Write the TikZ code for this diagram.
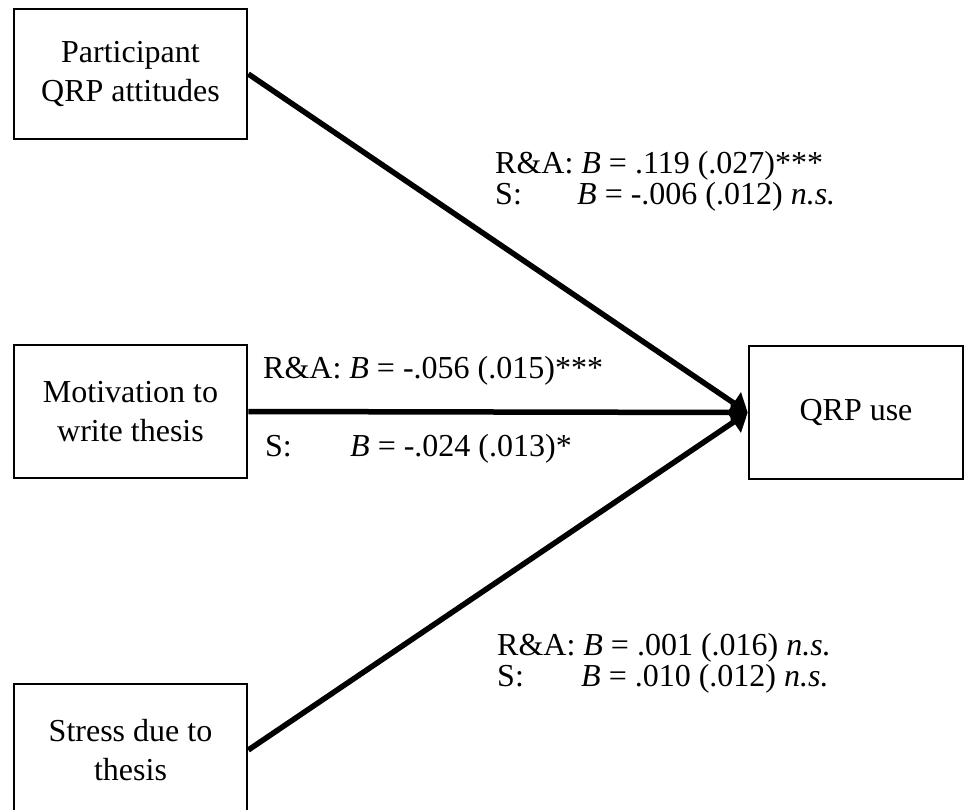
\documentclass[tikz,border=0pt]{standalone}
\usepackage{fontspec}
\setmainfont{Liberation Serif}
\usetikzlibrary{arrows.meta}
\begin{document}
\begin{tikzpicture}[x=1pt,y=-1pt,
  varbox/.style={draw, line width=2.6pt, align=center, inner sep=0pt,
    font=\fontsize{32}{39}\selectfont},
  path/.style={line width=5.5pt, -{Triangle[length=17pt,width=25pt]}},
  lbl/.style={anchor=base west, inner sep=0pt, font=\fontsize{32}{31}\selectfont}]
\useasboundingbox (0,0) rectangle (965,809);
\node[varbox, minimum width=233pt, minimum height=130pt] (att) at (130.5,74) {Participant\\QRP attitudes};
\node[varbox, minimum width=233pt, minimum height=133pt] (mot) at (130.5,411.5) {Motivation to\\write thesis};
\node[varbox, minimum width=233pt, minimum height=132pt] (str) at (130.5,750) {Stress due to\\thesis};
\node[varbox, minimum width=214pt, minimum height=133pt] (use) at (856,412.5) {QRP use};
\draw[path] (att.east) -- (use.west);
\draw[path] (mot.east) -- (use.west);
\draw[path] (str.east) -- (use.west);
\node[lbl] (l1a) at (495,173) {R\&A: \textit{B} = .119 (.027)***};
\node[lbl] (l1b) at (495,204) {\makebox[82pt][l]{S:}\textit{B} = -.006 (.012) \textit{n.s.}};
\node[lbl] (l2a) at (263,378) {R\&A: \textit{B} = -.056 (.015)***};
\node[lbl] (l2b) at (265,456) {\makebox[85pt][l]{S:}\textit{B} = -.024 (.013)*};
\node[lbl] (l3a) at (497,655) {R\&A: \textit{B} = .001 (.016) \textit{n.s.}};
\node[lbl] (l3b) at (497,686) {\makebox[84pt][l]{S:}\textit{B} = .010 (.012) \textit{n.s.}};
\end{tikzpicture}
\end{document}
